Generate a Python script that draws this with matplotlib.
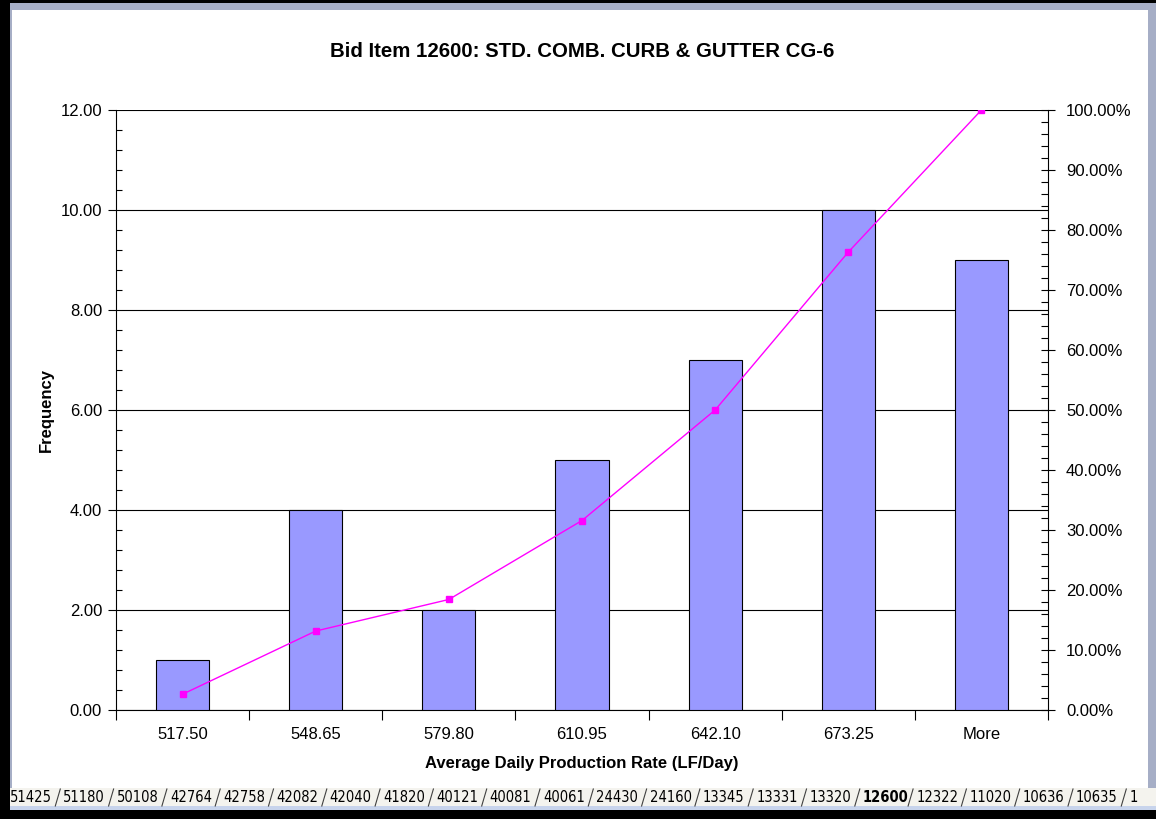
import matplotlib
matplotlib.use('Agg')
import matplotlib.pyplot as plt
from matplotlib.patches import Rectangle
from matplotlib.lines import Line2D
from matplotlib.ticker import MultipleLocator, FixedLocator, PercentFormatter, FormatStrFormatter

plt.rcParams['font.family'] = ['Liberation Sans', 'DejaVu Sans']

# data
bins = ['517.50', '548.65', '579.80', '610.95', '642.10', '673.25', 'More']
frequency = [1, 4, 2, 5, 7, 10, 9]
cumulative = [0.0263, 0.1316, 0.1842, 0.3158, 0.5000, 0.7632, 1.0000]
sheet_tabs = ['51425', '51180', '50108', '42764', '42758', '42082', '42040', '41820',
              '40121', '40081', '40061', '24430', '24160', '13345', '13331', '13320',
              '12600', '12322', '11020', '10636', '10635', '1']
active_tab = '12600'

W, H = 1156, 819
fig = plt.figure(figsize=(W / 100, H / 100), dpi=100)
fig.patch.set_facecolor('white')


def px(x, y):
    # pixel coords (top-left origin) -> figure fraction
    return x / W, 1 - y / H


# chart axes
x0, x1, y0, y1 = 116, 1048, 110, 710
ax = fig.add_axes([x0 / W, 1 - y1 / H, (x1 - x0) / W, (y1 - y0) / H])
xs = list(range(len(bins)))
ax.bar(xs, frequency, width=0.4, color='#9999FF', edgecolor='black', linewidth=0.8, zorder=3)
ax.set_xlim(-0.5, len(bins) - 0.5)
ax.set_ylim(0, 12)
ax.yaxis.set_major_locator(MultipleLocator(2))
ax.yaxis.set_minor_locator(MultipleLocator(0.4))
ax.yaxis.set_major_formatter(FormatStrFormatter('%.2f'))
ax.grid(axis='y', which='major', color='black', linewidth=0.8, zorder=1)
ax.tick_params(axis='y', which='major', direction='out', length=6, width=0.8,
               labelsize=12, colors='black', pad=4)
ax.tick_params(axis='y', which='minor', direction='in', length=4, width=0.8)

# category labels centred, tick marks on the boundaries
ax.xaxis.set_major_locator(FixedLocator([i - 0.5 for i in range(len(bins) + 1)]))
ax.xaxis.set_minor_locator(FixedLocator(xs))
ax.xaxis.set_major_formatter(plt.NullFormatter())
ax.xaxis.set_minor_formatter(plt.FixedFormatter(bins))
ax.tick_params(axis='x', which='major', direction='out', length=7, width=0.8)
ax.tick_params(axis='x', which='minor', length=0, labelsize=12, pad=12)

for s in ['top', 'right']:
    ax.spines[s].set_visible(False)
ax.spines['left'].set_linewidth(0.8)
ax.spines['bottom'].set_linewidth(0.8)

ax.set_xlabel('Average Daily Production Rate (LF/Day)', fontsize=12, fontweight='bold', labelpad=10)
ax.set_ylabel('Frequency', fontsize=12, fontweight='bold', labelpad=5)
ax.set_title('Bid Item 12600: STD. COMB. CURB & GUTTER CG-6', fontsize=14.7, fontweight='bold', pad=38)

# cumulative % on the secondary axis
ax2 = ax.twinx()
ax2.plot(xs, cumulative, color='#FF00FF', linewidth=1, marker='s', markersize=5, zorder=4)
ax2.set_ylim(0, 1)
ax2.yaxis.set_major_locator(MultipleLocator(0.1))
ax2.yaxis.set_minor_locator(MultipleLocator(0.02))
ax2.yaxis.set_major_formatter(PercentFormatter(1.0, decimals=2))
ax2.tick_params(axis='y', which='major', direction='inout', length=10, width=0.8,
                labelsize=12, pad=8)
ax2.tick_params(axis='y', which='minor', direction='in', length=5, width=0.8)
for s in ['top', 'left', 'bottom']:
    ax2.spines[s].set_visible(False)
ax2.spines['right'].set_linewidth(0.8)

# window frame of the screenshot
def box(x, y, w, h, color):
    fx, fy = px(x, y + h)
    fig.patches.append(Rectangle((fx, fy), w / W, h / H, transform=fig.transFigure,
                                 facecolor=color, edgecolor='none', zorder=0))

box(0, 0, W, 3, 'black')
box(10, 3, W - 10, 7, '#A6AEC6')
box(0, 0, 10, H, 'black')
box(10, 3, 2, 785, '#A6AEC6')
box(1148, 3, 8, 785, '#A6AEC6')
box(10, 788, W - 10, 18, '#F4F3EE')
box(10, 806, W - 10, 4, '#C8D4EC')
box(0, 810, W, 9, 'black')

# sheet tabs
tx = 10
for name in sheet_tabs:
    bold = name == active_tab
    fig.text(*px(tx, 797), name, fontsize=10.5, va='center', ha='left',
             fontweight='bold' if bold else 'normal', family=['DejaVu Sans'],
             fontstretch='condensed')
    tx += 53.3
    sx = tx - 8
    fig.lines.append(Line2D([sx / W, (sx + 5) / W], [1 - 806 / H, 1 - 789 / H],
                            transform=fig.transFigure, color='#404040', linewidth=0.8))

fig.savefig('out.png', dpi=100)
